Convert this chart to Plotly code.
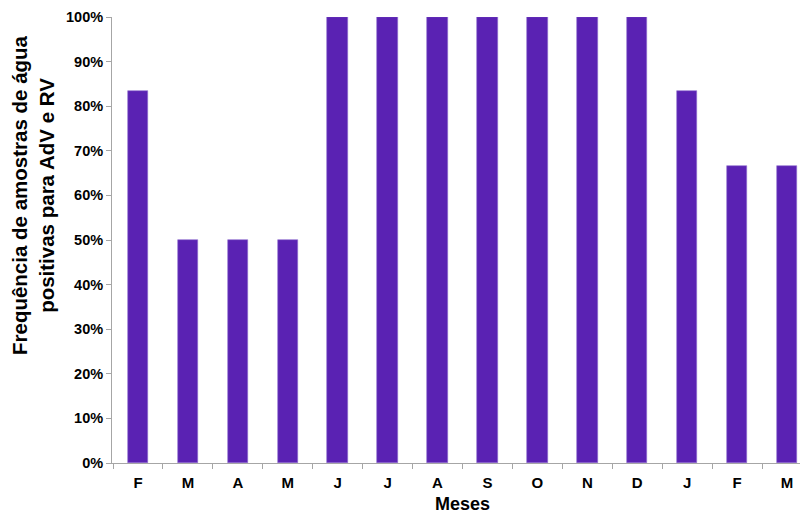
import plotly.graph_objects as go

# Monthly share of water samples positive for adenovirus (AdV) and rotavirus (RV)
months = ["F", "M", "A", "M", "J", "J", "A", "S", "O", "N", "D", "J", "F", "M"]
positive_pct = [83.33, 50, 50, 50, 100, 100, 100, 100, 100, 100, 100, 83.33, 66.67, 66.67]
y_ticks = list(range(0, 101, 10))
y_tick_labels = [f"{v}%" for v in y_ticks]

positions = list(range(len(months)))

FONT = "Liberation Sans, Arial, sans-serif"

fig = go.Figure(
    go.Bar(
        x=positions,
        y=positive_pct,
        width=0.41,
        marker=dict(color="#5A22B3", line=dict(width=0.6, color="#8E6FD0")),
    )
)

fig.update_layout(
    width=800,
    height=515,
    margin=dict(l=112, r=0, t=17, b=52),
    paper_bgcolor="white",
    plot_bgcolor="white",
    showlegend=False,
    bargap=0,
    font=dict(family=FONT),
    xaxis=dict(
        range=[-0.52, 13.26],
        tickvals=positions,
        ticktext=[f"<b>{m}</b>" for m in months],
        ticks="",
        ticklabelstandoff=6,
        tickfont=dict(family=FONT, size=15, color="#000000"),
        showline=True,
        linecolor="#A6A6A6",
        linewidth=1,
        showgrid=False,
        zeroline=False,
        minor=dict(tick0=-0.5, dtick=1, ticks="outside", ticklen=5,
                   tickcolor="#A6A6A6", showgrid=False),
    ),
    yaxis=dict(
        range=[0, 100],
        tickvals=y_ticks,
        ticktext=[f"<b>{t}</b>" for t in y_tick_labels],
        ticks="outside",
        ticklen=5,
        tickcolor="#A6A6A6",
        tickfont=dict(family=FONT, size=14.5, color="#000000"),
        showline=True,
        linecolor="#A6A6A6",
        linewidth=1,
        showgrid=False,
        zeroline=False,
    ),
    annotations=[
        dict(
            text="<b>Frequência de amostras de água<br>positivas para AdV e RV</b>",
            xref="paper", yref="paper",
            x=(33 - 112) / 688, y=(463 - 195) / 446,
            xanchor="center", yanchor="middle",
            textangle=-90, showarrow=False,
            font=dict(family=FONT, size=20.5, color="#000000"),
        ),
        dict(
            text="<b>Meses</b>",
            xref="paper", yref="paper",
            x=(462 - 112) / 688, y=-(504 - 463) / 446,
            xanchor="center", yanchor="middle",
            showarrow=False,
            font=dict(family=FONT, size=18, color="#000000"),
        ),
    ],
)

fig.write_html("out.html")
